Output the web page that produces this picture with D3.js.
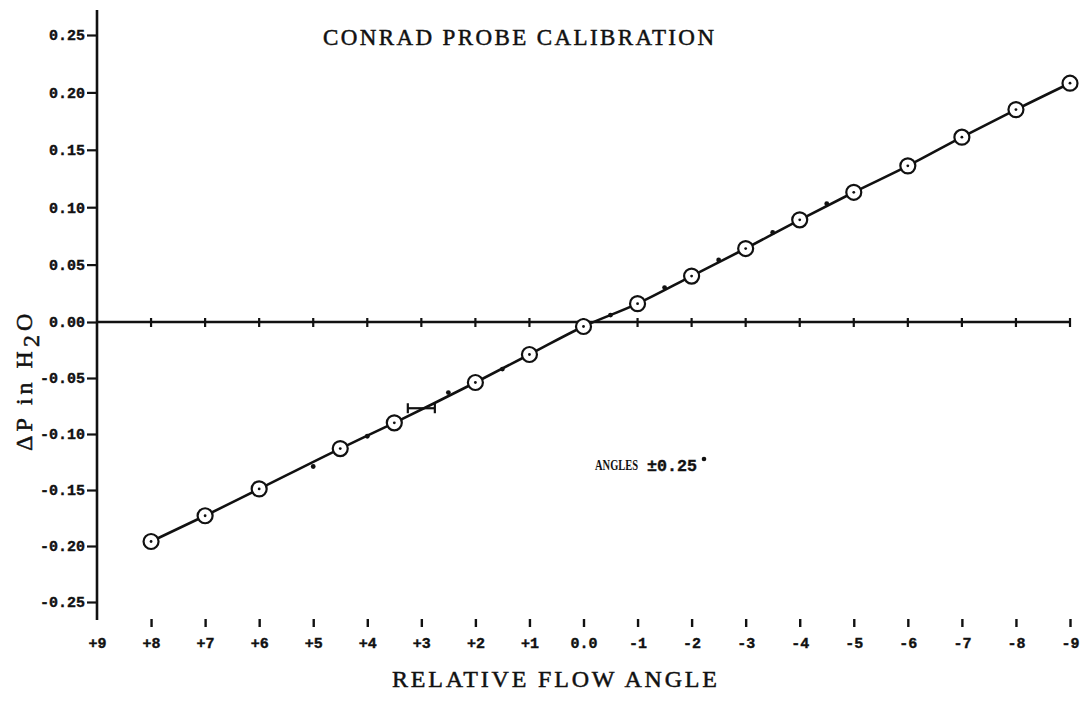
<!DOCTYPE html>
<html>
<head>
<meta charset="utf-8">
<script src="https://cdn.jsdelivr.net/npm/d3@7"></script>
<style>
  html, body { margin: 0; padding: 0; background: #fff; }
  svg { display: block; }
</style>
</head>
<body>
<svg id="chart" width="1082" height="702"></svg>
<script>
// Calibration points: relative flow angle (deg) vs pressure difference (in. H2O)
const angles = [8, 7, 6, 4.5, 3.5, 2, 1, 0, -1, -2, -3, -4, -5, -6, -7, -8, -9];
const deltaP = [-0.196, -0.173, -0.149, -0.113, -0.090, -0.054, -0.029, -0.004,
                0.016, 0.040, 0.064, 0.089, 0.113, 0.136, 0.161, 0.185, 0.208];

// Intermediate readings marked as small dots along the curve
const midAngles = [5, 4, 2.5, 1.5, -0.5, -1.5, -2.5, -3.5, -4.5];
const midDeltaP = [-0.129, -0.102, -0.063, -0.042, 0.006, 0.030, 0.054, 0.078, 0.103];

// Angle uncertainty bar
const errAngle = 3;
const errDeltaP = -0.077;
const errHalfWidth = 0.25;

// Axis ticks
const xTicks = [9, 8, 7, 6, 5, 4, 3, 2, 1, 0, -1, -2, -3, -4, -5, -6, -7, -8, -9];
const xTickLabels = ["+9", "+8", "+7", "+6", "+5", "+4", "+3", "+2", "+1", "0.0",
                     "-1", "-2", "-3", "-4", "-5", "-6", "-7", "-8", "-9"];
const yTicks = [0.25, 0.20, 0.15, 0.10, 0.05, 0.00, -0.05, -0.10, -0.15, -0.20, -0.25];
const yTickLabels = ["0.25", "0.20", "0.15", "0.10", "0.05", "0.00",
                     "-0.05", "-0.10", "-0.15", "-0.20", "-0.25"];

const svg = d3.select("#chart");
const ink = "#111";
const monoFont = "'Liberation Mono', 'DejaVu Sans Mono', monospace";
const typeFont = "'Liberation Serif', 'DejaVu Serif', serif";

const x = d3.scaleLinear().domain([9, -9]).range([97, 1070]);
const y = d3.scaleLinear().domain([-0.25, 0, 0.25]).range([602, 322, 35]);

// Vertical axis line
svg.append("line")
  .attr("x1", x(9)).attr("x2", x(9))
  .attr("y1", 10).attr("y2", 620)
  .attr("stroke", ink).attr("stroke-width", 2.6);

// Left axis ticks and labels
const yAxis = d3.axisLeft(y)
  .tickValues(yTicks)
  .tickFormat((d, i) => yTickLabels[i])
  .tickSize(10)
  .tickPadding(2);
const gy = svg.append("g").attr("transform", `translate(${x(9)},0)`).call(yAxis);
gy.select(".domain").remove();
gy.selectAll(".tick line").attr("stroke", ink).attr("stroke-width", 2.2);
gy.selectAll(".tick text")
  .attr("fill", ink)
  .attr("stroke", ink).attr("stroke-width", 0.4)
  .style("font-family", monoFont)
  .style("font-weight", "bold")
  .style("font-size", "15px");

// Bottom tick marks and labels
const xAxis = d3.axisBottom(x)
  .tickValues(xTicks)
  .tickFormat((d, i) => xTickLabels[i])
  .tickSize(8)
  .tickPadding(10);
const gx = svg.append("g").attr("transform", "translate(0,619)").call(xAxis);
gx.select(".domain").remove();
gx.selectAll(".tick line").attr("stroke", ink).attr("stroke-width", 2.4)
  .filter(d => d === 9).remove();
gx.selectAll(".tick text")
  .attr("fill", ink)
  .attr("stroke", ink).attr("stroke-width", 0.4)
  .style("font-family", monoFont)
  .style("font-weight", "bold")
  .style("font-size", "15px");

// Zero line with degree ticks
svg.append("line")
  .attr("x1", x(9)).attr("x2", x(-9))
  .attr("y1", y(0)).attr("y2", y(0))
  .attr("stroke", ink).attr("stroke-width", 2.4);
svg.append("g").selectAll("line")
  .data(xTicks.filter(d => d !== 9))
  .join("line")
  .attr("x1", d => x(d)).attr("x2", d => x(d))
  .attr("y1", y(0) - 4).attr("y2", y(0) + 5)
  .attr("stroke", ink).attr("stroke-width", 2.2);

// Calibration curve
const pts = angles.map((a, i) => [a, deltaP[i]]);
const line = d3.line().x(d => x(d[0])).y(d => y(d[1])).curve(d3.curveMonotoneX);
svg.append("path")
  .attr("d", line(pts))
  .attr("fill", "none")
  .attr("stroke", ink)
  .attr("stroke-width", 2.6);

// Intermediate dots
svg.append("g").selectAll("circle")
  .data(midAngles.map((a, i) => [a, midDeltaP[i]]))
  .join("circle")
  .attr("cx", d => x(d[0])).attr("cy", d => y(d[1]))
  .attr("r", 2.4).attr("fill", ink);

// Error bar on angle
const eb = svg.append("g").attr("stroke", ink).attr("stroke-width", 2.2);
eb.append("line")
  .attr("x1", x(errAngle + errHalfWidth)).attr("x2", x(errAngle - errHalfWidth))
  .attr("y1", y(errDeltaP)).attr("y2", y(errDeltaP));
[errAngle + errHalfWidth, errAngle - errHalfWidth].forEach(a => {
  eb.append("line")
    .attr("x1", x(a)).attr("x2", x(a))
    .attr("y1", y(errDeltaP) - 5).attr("y2", y(errDeltaP) + 5);
});

// Data circles
const marks = svg.append("g").selectAll("g")
  .data(pts)
  .join("g")
  .attr("transform", d => `translate(${x(d[0])},${y(d[1])})`);
marks.append("circle")
  .attr("r", 7.5)
  .attr("fill", "#fff")
  .attr("stroke", ink)
  .attr("stroke-width", 2.2);
marks.append("circle")
  .attr("r", 1.4)
  .attr("fill", ink);

// Title
svg.append("text")
  .attr("x", 323).attr("y", 45)
  .attr("fill", ink)
  .attr("stroke", ink).attr("stroke-width", 0.5)
  .attr("textLength", 391)
  .attr("lengthAdjust", "spacing")
  .style("font-family", typeFont)
  .style("font-size", "23px")
  .text("CONRAD PROBE CALIBRATION");

// X axis title
svg.append("text")
  .attr("x", 392).attr("y", 687)
  .attr("fill", ink)
  .attr("stroke", ink).attr("stroke-width", 0.5)
  .attr("textLength", 325)
  .attr("lengthAdjust", "spacing")
  .style("font-family", typeFont)
  .style("font-size", "24px")
  .text("RELATIVE FLOW ANGLE");

// Y axis title
const yt = svg.append("text")
  .attr("transform", "translate(32,451) rotate(-90)")
  .attr("fill", ink)
  .attr("stroke", ink).attr("stroke-width", 0.5)
  .style("font-family", typeFont)
  .style("font-size", "24px")
  .style("letter-spacing", "4px");
yt.append("tspan").text("\u0394P in H");
yt.append("tspan").attr("dy", 7).text("2");
yt.append("tspan").attr("dy", -7).text("O");

// Annotation: condensed caps followed by the tolerance value
svg.append("g")
  .attr("transform", "translate(595,470) scale(0.7,1)")
  .append("text")
  .attr("fill", ink)
  .style("font-family", typeFont)
  .style("font-weight", "bold")
  .style("font-size", "15px")
  .text("ANGLES");
svg.append("g")
  .attr("transform", "translate(647,471) scale(0.98,1)")
  .append("text")
  .attr("fill", ink)
  .attr("stroke", ink).attr("stroke-width", 0.4)
  .style("font-family", monoFont)
  .style("font-weight", "bold")
  .style("font-size", "17px")
  .text("\u00B10.25");
svg.append("circle")
  .attr("cx", 704).attr("cy", 459).attr("r", 2.3).attr("fill", ink);
</script>
</body>
</html>
